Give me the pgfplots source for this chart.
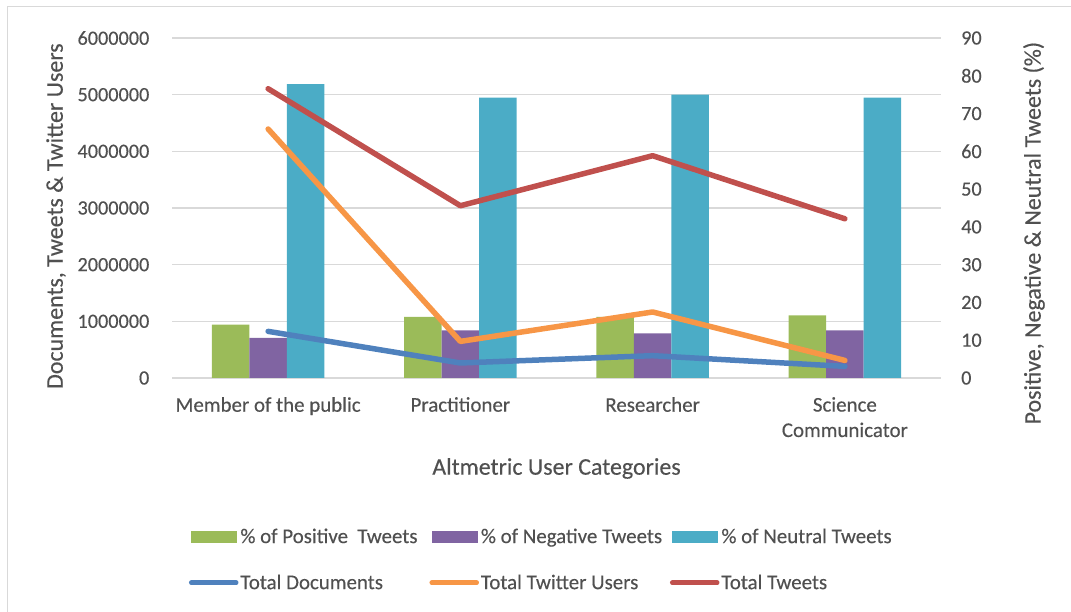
\documentclass[border=0pt]{standalone}
\usepackage{pgfplots}
\pgfplotsset{compat=1.18}
\usepackage{fontspec}
\setmainfont{Carlito}

\definecolor{cPos}{HTML}{9BBB59}
\definecolor{cNeg}{HTML}{8064A2}
\definecolor{cNeu}{HTML}{4BACC6}
\definecolor{cDoc}{HTML}{4F81BD}
\definecolor{cUsr}{HTML}{F79646}
\definecolor{cTwt}{HTML}{C0504D}
\definecolor{cGrid}{HTML}{D9D9D9}
\definecolor{cText}{HTML}{505050}
\definecolor{cFrame}{HTML}{D9D9D9}

\newcommand{\tickfont}{\fontsize{20.3}{25.5}\selectfont\addfontfeature{FakeBold=0.3}\color{cText}}
\newcommand{\catfont}{\fontsize{21}{25.5}\selectfont\addfontfeature{FakeBold=0.3}\color{cText}}
\newcommand{\titlefont}{\fontsize{24}{28}\selectfont\addfontfeature{FakeBold=0.3}\color{cText}}
\newcommand{\legfont}{\fontsize{21}{25}\selectfont\addfontfeature{FakeBold=0.3}\color{cText}}

\pgfplotsset{
  frameaxis/.style={
    scale only axis, width=769bp, height=340bp,
    at={(172bp,234bp)}, anchor=south west,
    xmin=-0.5, xmax=3.5, enlargelimits=false,
    scaled y ticks=false,
    axis line style={draw=none}, tick style={draw=none},
    major tick length=0pt,
    tick label style={font=\tickfont},
    label style={font=\titlefont},
  },
}

\begin{document}
\begin{tikzpicture}
\path[use as bounding box] (0,0) rectangle (1071bp,612bp);
\draw[cFrame, line width=1bp] (7bp,0) -- (7bp,605bp) -- (1071bp,605bp);

% counts axis: grid, left ticks, categories
\begin{axis}[frameaxis,
  ymin=0, ymax=6000000,
  ytick={0,1000000,2000000,3000000,4000000,5000000,6000000},
  yticklabels={0,1000000,2000000,3000000,4000000,5000000,6000000},
  yticklabel style={anchor=east, inner sep=0pt, xshift=-22.5bp},
  ymajorgrids, grid style={cGrid, line width=1.2bp},
  xtick={0,1,2,3},
  xticklabels={Member of the public, Practitioner, Researcher, {Science\\Communicator}},
  xticklabel style={align=center, anchor=north, inner sep=0pt, yshift=-19bp, font=\catfont},
  ylabel={Documents, Tweets \& Twitter Users},
  ylabel style={at={(axis description cs:-0.1508,0.476)}, anchor=center},
  xlabel={Altmetric User Categories},
  xlabel style={at={(axis description cs:0.5,-0.266)}, anchor=center},
]
\end{axis}

% percentage axis: bars
\begin{axis}[frameaxis,
  axis y line*=right, axis x line*=bottom,
  ymin=0, ymax=90,
  ytick={0,10,20,30,40,50,60,70,80,90},
  yticklabels={0,10,20,30,40,50,60,70,80,90},
  yticklabel style={anchor=west, inner sep=0pt, xshift=20bp},
  xtick=\empty,
  ybar, bar width=0.195,
  ylabel={Positive, Negative \& Neutral Tweets (\%)},
  ylabel style={at={(axis description cs:1.1209,0.426)}, anchor=center},
]
\addplot[fill=cPos, draw=none, bar shift=-0.195] coordinates {(0,14.1) (1,16.2) (2,16.2) (3,16.6)};
\addplot[fill=cNeg, draw=none, bar shift=0] coordinates {(0,10.6) (1,12.6) (2,11.8) (3,12.6)};
\addplot[fill=cNeu, draw=none, bar shift=0.195] coordinates {(0,77.8) (1,74.2) (2,75.0) (3,74.2)};
\end{axis}

% counts axis: lines and legend
\begin{axis}[frameaxis,
  ymin=0, ymax=6000000,
  ytick=\empty, xtick=\empty,
  legend columns=3,
  legend style={draw=none, fill=none, inner sep=0pt, outer sep=0pt,
    at={(axis description cs:0.0221,-0.437)}, anchor=north west,
    font=\legfont, row sep=26bp,
    nodes={inner sep=2bp}},
  legend cell align=left,
  /tikz/every odd column/.append style={column sep=0bp},
  /tikz/every even column/.append style={column sep=0bp},
]
\addlegendimage{legend image code/.code={\fill[cPos] (0bp,-5.8bp) rectangle (45bp,5.8bp);}}
\addlegendentry{\makebox[187bp][l]{\% of Positive\ \ Tweets}}
\addlegendimage{legend image code/.code={\fill[cNeg] (0bp,-5.8bp) rectangle (45bp,5.8bp);}}
\addlegendentry{\makebox[187bp][l]{\% of Negative Tweets}}
\addlegendimage{legend image code/.code={\fill[cNeu] (0bp,-5.8bp) rectangle (45bp,5.8bp);}}
\addlegendentry{\makebox[187bp][l]{\% of Neutral Tweets}}

\addplot[cDoc, line width=5.5bp, line cap=round, line join=round,
  legend image code/.code={\draw[cDoc, line width=4.5bp, line cap=round] (0bp,0bp) -- (45bp,0bp);}]
  coordinates {(0,823000) (1,265000) (2,394000) (3,205000)};
\addlegendentry{\makebox[187bp][l]{Total Documents}}
\addplot[cUsr, line width=5.5bp, line cap=round, line join=round,
  legend image code/.code={\draw[cUsr, line width=4.5bp, line cap=round] (0bp,0bp) -- (45bp,0bp);}]
  coordinates {(0,4394000) (1,646000) (2,1165000) (3,310000)};
\addlegendentry{\makebox[187bp][l]{Total Twitter Users}}
\addplot[cTwt, line width=5.5bp, line cap=round, line join=round,
  legend image code/.code={\draw[cTwt, line width=4.5bp, line cap=round] (0bp,0bp) -- (45bp,0bp);}]
  coordinates {(0,5105000) (1,3040000) (2,3923000) (3,2810000)};
\addlegendentry{\makebox[187bp][l]{Total Tweets}}
\end{axis}
\end{tikzpicture}
\end{document}
